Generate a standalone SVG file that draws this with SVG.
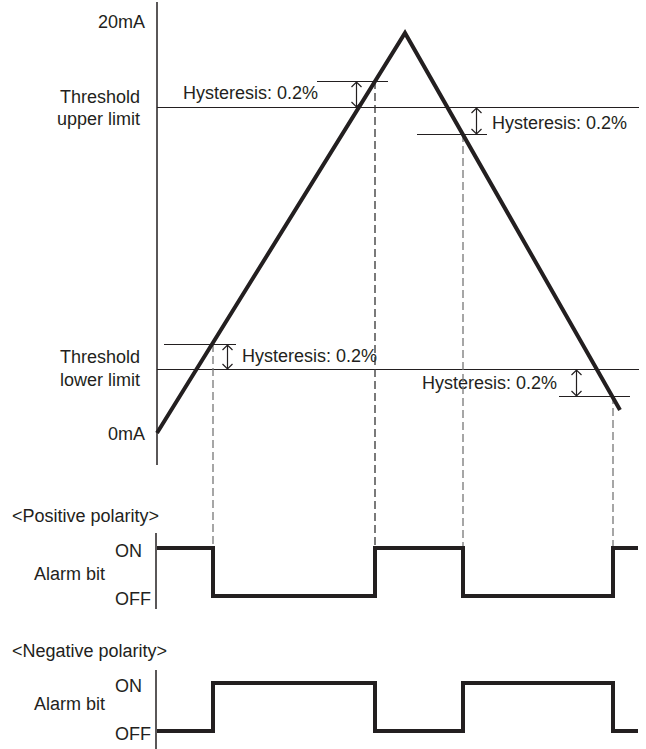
<svg xmlns="http://www.w3.org/2000/svg" width="646" height="749" viewBox="0 0 646 749">
<style>
text{font-family:"Liberation Sans",Arial,sans-serif;font-size:18px;fill:#231f20}
.r{text-anchor:end}
.axis{stroke:#231f20;stroke-width:1.5;fill:none}
.thin{stroke:#231f20;stroke-width:1.2;fill:none}
.thick{stroke:#231f20;stroke-width:4;fill:none;stroke-linejoin:miter}
.dash{stroke:#777;stroke-width:1.3;stroke-dasharray:8 4;fill:none}
.dashk{stroke:#333;stroke-width:1.3;stroke-dasharray:8 4;fill:none}
.arr{stroke:#231f20;stroke-width:1.2;fill:none}
</style>
<rect width="646" height="749" fill="#fff"/>
<g id="labels">
<text class="r" x="145" y="28">20mA</text>
<text class="r" x="140" y="103">Threshold</text>
<text class="r" x="140" y="125">upper limit</text>
<text class="r" x="140" y="363">Threshold</text>
<text class="r" x="140" y="386">lower limit</text>
<text class="r" x="145" y="440">0mA</text>
<text x="12" y="522">&lt;Positive polarity&gt;</text>
<text x="115" y="557">ON</text>
<text x="34" y="580">Alarm bit</text>
<text x="115" y="605">OFF</text>
<text x="12" y="657">&lt;Negative polarity&gt;</text>
<text x="115" y="692">ON</text>
<text x="34" y="710">Alarm bit</text>
<text x="115" y="740">OFF</text>
</g>
<g id="axes">
<line class="axis" x1="157" y1="2" x2="157" y2="465"/>
<line class="axis" x1="156" y1="533" x2="156" y2="609"/>
<line class="axis" x1="156" y1="670" x2="156" y2="749"/>
</g>
<g id="thresholds">
<line class="thin" x1="157" y1="107.5" x2="639" y2="107.5"/>
<line class="thin" x1="157" y1="369.5" x2="639" y2="369.5"/>
<line class="thin" x1="317" y1="81.5" x2="388" y2="81.5"/>
<line class="thin" x1="417" y1="134.5" x2="487" y2="134.5"/>
<line class="thin" x1="164" y1="344.5" x2="236" y2="344.5"/>
<line class="thin" x1="559" y1="396.5" x2="630" y2="396.5"/>
</g>
<g id="hysteresis-arrows">
<path class="arr" d="M356.5 82V107M351.5 87L356.5 82L361.5 87M351.5 102L356.5 107L361.5 102"/>
<path class="arr" d="M476.5 108V134M471.5 113L476.5 108L481.5 113M471.5 129L476.5 134L481.5 129"/>
<path class="arr" d="M227.5 345V369M222.5 350L227.5 345L232.5 350M222.5 364L227.5 369L232.5 364"/>
<path class="arr" d="M576.5 370V396M571.5 375L576.5 370L581.5 375M571.5 391L576.5 396L581.5 391"/>
<text x="183" y="99">Hysteresis: 0.2%</text>
<text x="492" y="129">Hysteresis: 0.2%</text>
<text x="242" y="362">Hysteresis: 0.2%</text>
<text class="r" x="557" y="389">Hysteresis: 0.2%</text>
</g>
<g id="connectors">
<line class="dash" x1="213" y1="344" x2="213" y2="548"/>
<line class="dashk" x1="375" y1="81" x2="375" y2="548"/>
<line class="dash" x1="463" y1="134" x2="463" y2="548"/>
<line class="dash" x1="613" y1="396" x2="613" y2="548"/>
</g>
<g id="signal">
<polyline class="thick" points="157,433 405,33 620,410"/>
</g>
<g id="positive">
<polyline class="thick" points="157,548 213,548 213,596 375,596 375,548 463,548 463,596 613,596 613,548 638,548"/>
</g>
<g id="negative">
<polyline class="thick" points="157,731 213,731 213,683 375,683 375,731 463,731 463,683 613,683 613,731 638,731"/>
</g>
</svg>
